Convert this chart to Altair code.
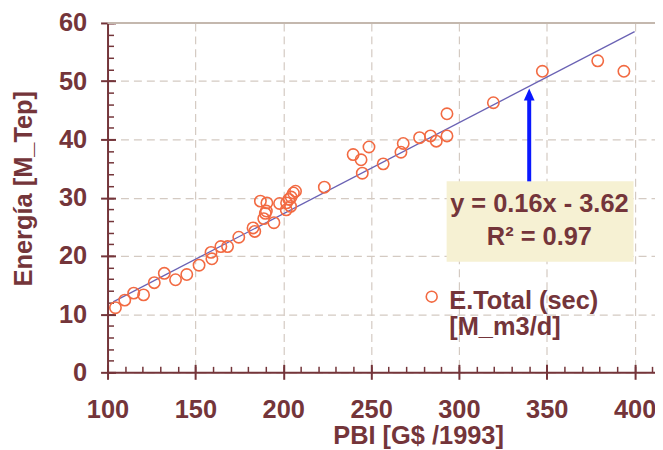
import altair as alt
import pandas as pd

# ---- data ----
pbi = [104.5, 109.8, 114.9, 120.5, 126.6, 132.3, 138.7, 145.1, 152.1, 158.9,
       159.4, 164.5, 168.3, 174.7, 182.8, 183.8, 187.0, 188.9, 189.8, 190.4,
       190.7, 194.7, 197.9, 201.7, 201.9, 203.2, 204.2, 204.5, 205.8, 207.0,
       223.4, 239.8, 244.3, 245.0, 248.8, 256.9, 267.0, 268.3, 277.6, 283.8,
       287.1, 293.2, 293.2, 319.6, 347.5, 379.0, 393.9]
energia = [11.1, 12.4, 13.6, 13.3, 15.4, 17.0, 15.9, 16.8, 18.4, 20.6,
           19.5, 21.6, 21.6, 23.2, 24.8, 24.2, 29.4, 26.4, 27.3, 27.7,
           29.1, 25.7, 29.0, 27.9, 29.1, 29.7, 28.5, 30.1, 30.8, 31.1,
           31.8, 37.4, 36.5, 34.2, 38.7, 35.8, 37.8, 39.3, 40.3, 40.6,
           39.7, 40.6, 44.4, 46.3, 51.7, 53.5, 51.7]

fit_pbi = [103.2, 400.0]
fit_energia = [12.1, 58.5]

x_major = [100, 150, 200, 250, 300, 350, 400]
x_minor = list(range(100, 420, 10))
y_major = [0, 10, 20, 30, 40, 50, 60]
y_minor = list(range(0, 62, 2))

eq_lines = ["y = 0.16x - 3.62", "R² = 0.97"]
eq_x = [345.8, 345.8]
eq_y = [27.5, 21.9]

box_x = [293.0, 399.4]
box_y = [19.0, 32.8]

arrow_x = [340.0]
arrow_y = [32.8, 47.0]
arrow_tip_y = [47.7]

legend_marker_x = [284.5]
legend_marker_y = [13.0]
legend_lines = ["E.Total (sec)", "[M_m3/d]"]
legend_text_x = [294.5, 294.5]
legend_text_y = [10.9, 6.4]

top_line = [60]

# ---- styles ----
MAROON = "#74353a"
ORANGE = "#f26a42"
LINEBLUE = "#6a62b4"
ARROW = "#0a18ff"
GRID = "#d4cac2"
BEIGE = "#f6f1d3"
FONT = "Liberation Sans"
FS = 25.5

xs = alt.Scale(domain=[100, 411.6], nice=False, zero=False)
ys = alt.Scale(domain=[0, 60], nice=False, zero=False)

x_major_axis = alt.Axis(
    orient="bottom", values=x_major, title="PBI [G$ /1993]",
    grid=True, gridDash=[8, 5], gridColor=GRID, gridWidth=1.2,
    domainColor=MAROON, domainWidth=2, tickColor=MAROON, tickWidth=2, tickSize=7,
    labelFont=FONT, labelFontSize=FS, labelFontWeight="bold", labelColor=MAROON,
    labelPadding=18, labelFlush=False, labelOverlap=False,
    titleFont=FONT, titleFontSize=FS, titleFontWeight="bold", titleColor=MAROON,
    titleX=312, titleY=72, titleBaseline="alphabetic", titleAlign="center")
x_minor_axis = alt.Axis(
    orient="bottom", values=x_minor, title="", offset=-6, tickSize=6,
    tickColor=MAROON, tickWidth=1.5, labels=False, domain=False, grid=False)
x_in_axis = alt.Axis(
    orient="bottom", values=x_major, title="", offset=-8, tickSize=8,
    tickColor=MAROON, tickWidth=2, labels=False, domain=False, grid=False)

y_major_axis = alt.Axis(
    orient="left", values=y_major, title="Energía [M_Tep]",
    grid=True, gridDash=[8, 5], gridColor=GRID, gridWidth=1.2,
    domainColor=MAROON, domainWidth=2, tickColor=MAROON, tickWidth=2, tickSize=7,
    labelFont=FONT, labelFontSize=FS, labelFontWeight="bold", labelColor=MAROON,
    labelPadding=14, labelFlush=False, labelOverlap=False,
    titleFont=FONT, titleFontSize=FS, titleFontWeight="bold", titleColor=MAROON,
    titleAngle=270, titleX=-76, titleY=166, titleBaseline="alphabetic",
    titleAlign="center")
y_minor_axis = alt.Axis(
    orient="left", values=y_minor, title="", offset=-6, tickSize=6,
    tickColor=MAROON, tickWidth=1.5, labels=False, domain=False, grid=False)
y_in_axis = alt.Axis(
    orient="left", values=y_major, title="", offset=-8, tickSize=8,
    tickColor=MAROON, tickWidth=2, labels=False, domain=False, grid=False)

df_pts = pd.DataFrame({"pbi": pbi, "energia": energia})
df_fit = pd.DataFrame({"pbi": fit_pbi, "energia": fit_energia})
df_box = pd.DataFrame({"x1": [box_x[0]], "x2": [box_x[1]], "y1": [box_y[0]], "y2": [box_y[1]]})
df_top = pd.DataFrame({"v": top_line})
df_arrow = pd.DataFrame({"x": arrow_x, "y1": [arrow_y[0]], "y2": [arrow_y[1]]})
df_tip = pd.DataFrame({"x": arrow_x, "y": arrow_tip_y})
df_eq = pd.DataFrame({"x": eq_x, "y": eq_y, "t": eq_lines})
df_legm = pd.DataFrame({"x": legend_marker_x, "y": legend_marker_y})
df_legt = pd.DataFrame({"x": legend_text_x, "y": legend_text_y, "t": legend_lines})

box = alt.Chart(df_box).mark_rect(color=BEIGE).encode(
    x=alt.X("x1:Q", scale=xs, axis=x_in_axis), x2="x2:Q",
    y=alt.Y("y1:Q", scale=ys, axis=y_in_axis), y2="y2:Q")

top = alt.Chart(df_top).mark_rule(color="#c4b8ae", strokeWidth=2).encode(
    y=alt.Y("v:Q", scale=ys, axis=None))

fit = alt.Chart(df_fit).mark_line(color=LINEBLUE, strokeWidth=1.3).encode(
    x=alt.X("pbi:Q", scale=xs, axis=x_minor_axis),
    y=alt.Y("energia:Q", scale=ys, axis=y_minor_axis))

pts = alt.Chart(df_pts).mark_point(shape="circle", filled=False, color=ORANGE,
                                   size=130, strokeWidth=1.6, opacity=1).encode(
    x=alt.X("pbi:Q", scale=xs, axis=x_major_axis),
    y=alt.Y("energia:Q", scale=ys, axis=y_major_axis))

shaft = alt.Chart(df_arrow).mark_rule(color=ARROW, strokeWidth=4).encode(
    x=alt.X("x:Q", scale=xs, axis=None),
    y=alt.Y("y1:Q", scale=ys, axis=None), y2="y2:Q")

tip = alt.Chart(df_tip).mark_point(shape="M-0.9,1L0,-1L0.9,1Z", filled=True,
                                   size=144, color=ARROW, opacity=1).encode(
    x=alt.X("x:Q", scale=xs, axis=None),
    y=alt.Y("y:Q", scale=ys, axis=None))

eq = alt.Chart(df_eq).mark_text(font=FONT, fontSize=FS, fontWeight="bold",
                                color=MAROON, align="center",
                                baseline="alphabetic").encode(
    x=alt.X("x:Q", scale=xs, axis=None),
    y=alt.Y("y:Q", scale=ys, axis=None), text="t:N")

legm = alt.Chart(df_legm).mark_point(shape="circle", filled=False, color=ORANGE,
                                     size=120, strokeWidth=1.6, opacity=1).encode(
    x=alt.X("x:Q", scale=xs, axis=None),
    y=alt.Y("y:Q", scale=ys, axis=None))

legt = alt.Chart(df_legt).mark_text(font=FONT, fontSize=FS, fontWeight="bold",
                                    color=MAROON, align="left",
                                    baseline="alphabetic").encode(
    x=alt.X("x:Q", scale=xs, axis=None),
    y=alt.Y("y:Q", scale=ys, axis=None), text="t:N")

chart = alt.layer(box, top, fit, pts, shaft, tip, eq, legm, legt).resolve_axis(
    x="independent", y="independent"
).properties(
    width=550, height=351,
    autosize=alt.AutoSizeParams(type="none"),
    padding={"left": 100, "top": 14, "right": 0, "bottom": 76},
    background="white",
).configure_view(stroke=None)

chart.save("out.html", embed_options={"renderer": "svg", "actions": False})
